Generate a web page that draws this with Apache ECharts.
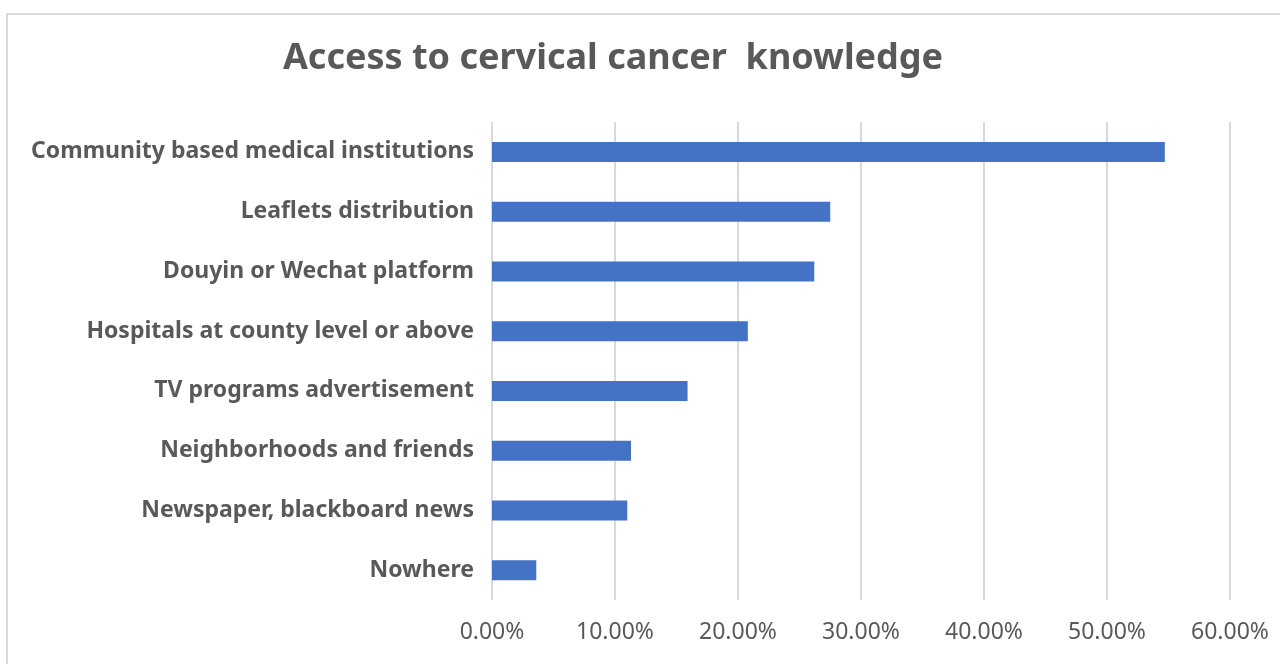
<!DOCTYPE html>
<html><head><meta charset="utf-8">
<script src="https://cdn.jsdelivr.net/npm/echarts@6/dist/echarts.min.js"></script>
<style>html,body{margin:0;padding:0;background:#fff}#c{width:1280px;height:664px}</style>
</head><body><div id="c"></div>
<script>
const categories = ["Community based medical institutions","Leaflets distribution","Douyin or Wechat platform","Hospitals at county level or above","TV programs advertisement","Neighborhoods and friends","Newspaper, blackboard news","Nowhere"];
const values = [54.7, 27.5, 26.2, 20.8, 15.9, 11.3, 11.0, 3.6];
const chart = echarts.init(document.getElementById('c'));
chart.setOption({
  backgroundColor: '#fff',
  animation: false,
  graphic: [{type:'rect', shape:{x:7,y:14,width:1290,height:670}, style:{fill:'none', stroke:'#d9d9d9', lineWidth:2}, silent:true}],
  title: {text: 'Access to cervical cancer  knowledge', left: 608, textAlign:'center', top: 36,
    textStyle: {fontFamily:'Noto Sans', fontSize: 36, fontWeight: 'bold', color: '#595959'}},
  grid: {left: 492, right: 50, top: 122, bottom: 64},
  xAxis: {type:'value', min:0, max:60, interval:10,
    axisLine:{show:false}, axisTick:{show:false},
    splitLine:{lineStyle:{color:'#d9d9d9', width:2}},
    axisLabel:{formatter: v => v.toFixed(2)+'%', fontFamily:'Noto Sans', fontSize:23, color:'#595959', margin:21}},
  yAxis: {type:'category', data: categories, inverse:true,
    axisLine:{show:false}, axisTick:{show:false},
    axisLabel:{fontFamily:'Noto Sans', fontSize:23, fontWeight:'bold', color:'#595959', margin:18}},
  series: [{type:'bar', data: values, barWidth: 20, itemStyle:{color:'#4472C4'}}]
});
</script></body></html>
